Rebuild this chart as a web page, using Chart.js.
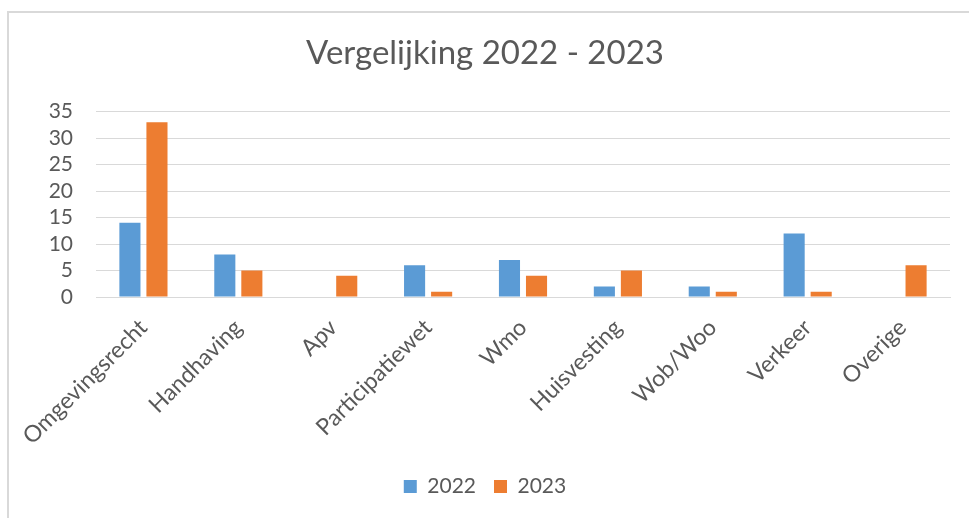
<!DOCTYPE html>
<html>
<head>
<meta charset="utf-8">
<script src="https://cdn.jsdelivr.net/npm/chart.js@4/dist/chart.umd.min.js"></script>
<style>
  html, body { margin: 0; padding: 0; background: #fff; }
  #frame {
    position: absolute; left: 7px; top: 11px; width: 980px; height: 520px;
    border-left: 2px solid #d9d9d9; border-top: 2px solid #d9d9d9;
  }
  #wrap { position: absolute; left: 0; top: 0; width: 969px; height: 518px; }
</style>
</head>
<body>
<div id="frame"></div>
<div id="wrap"><canvas id="chart"></canvas></div>
<script>
// Vergelijking 2022 - 2023
const categories = ["Omgevingsrecht", "Handhaving", "Apv", "Participatiewet", "Wmo", "Huisvesting", "Wob/Woo", "Verkeer", "Overige"];
const values2022 = [14, 8, 0, 6, 7, 2, 2, 12, 0];
const values2023 = [33, 5, 4, 1, 4, 5, 1, 1, 6];
const yTicks = [0, 5, 10, 15, 20, 25, 30, 35];

const textColor = "#595959";
const gridColor = "#d9d9d9";
const font = "Lato";

new Chart(document.getElementById("chart"), {
  type: "bar",
  data: {
    labels: categories,
    datasets: [
      { label: "2022", data: values2022, backgroundColor: "#5b9bd5", barPercentage: 0.78, categoryPercentage: 0.57 },
      { label: "2023", data: values2023, backgroundColor: "#ed7d31", barPercentage: 0.78, categoryPercentage: 0.57 },
    ],
  },
  options: {
    responsive: true,
    maintainAspectRatio: false,
    animation: false,
    layout: { padding: { left: 20, right: 19, top: 34, bottom: 11 } },
    plugins: {
      title: {
        display: true,
        text: "Vergelijking 2022 - 2023",
        color: textColor,
        font: { family: font, size: 33, weight: "normal" },
        padding: { top: 0, bottom: 38 },
      },
      legend: {
        position: "bottom",
        labels: {
          color: textColor,
          font: { family: font, size: 21 },
          boxWidth: 13,
          boxHeight: 13,
          padding: 18,
        },
      },
      tooltip: { enabled: false },
    },
    scales: {
      x: {
        afterFit: (scale) => { scale.height = 161; },
        grid: { display: false, drawTicks: false },
        border: { color: gridColor, width: 1 },
        ticks: {
          color: textColor,
          font: { family: font, size: 23 },
          minRotation: 45,
          maxRotation: 45,
          padding: 17,
        },
      },
      y: {
        min: 0,
        max: 35,
        afterBuildTicks: (scale) => { scale.ticks = yTicks.map((v) => ({ value: v })); },
        afterFit: (scale) => { scale.width = 76; },
        grid: { color: gridColor, lineWidth: 1, drawTicks: false },
        border: { display: false },
        ticks: {
          color: textColor,
          font: { family: font, size: 21 },
          padding: 23,
          autoSkip: false,
        },
      },
    },
  },
});
</script>
</body>
</html>
